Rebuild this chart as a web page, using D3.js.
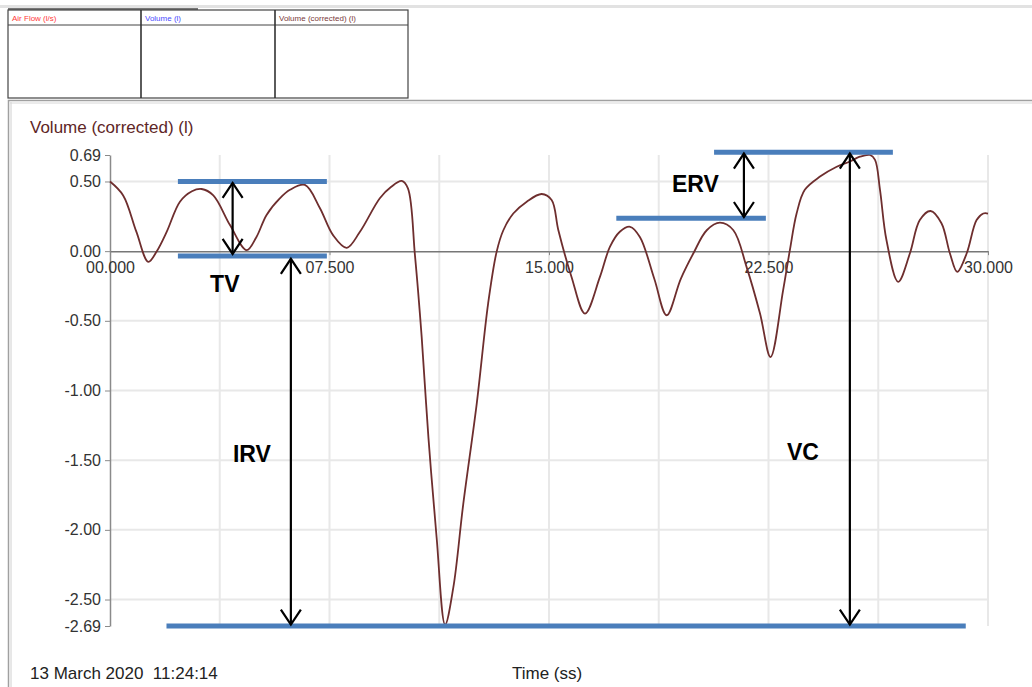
<!DOCTYPE html>
<html><head><meta charset="utf-8">
<script src="https://cdn.jsdelivr.net/npm/d3@7"></script>
<style>
html,body{margin:0;padding:0;background:#fff;}
svg{display:block;font-family:Arial,"Liberation Sans",sans-serif;}
</style></head>
<body>
<svg id="c" width="1032" height="687"></svg>
<script>
// ---- data ----
const timeS = [0,0.45,0.9,1.31,1.6,1.94,2.39,2.8,3.13,3.53,4.1,4.67,5.0,5.35,5.81,6.15,6.66,7.17,7.62,8.09,8.54,9.22,9.6,9.97,10.18,10.42,10.65,10.88,11.16,11.45,11.73,12.07,12.53,12.92,13.21,13.44,13.78,14.24,14.75,15.09,15.32,15.77,16.23,16.74,17.08,17.42,17.77,18.11,18.6,19.02,19.5,19.93,20.39,20.84,21.3,21.75,22.21,22.57,23.0,23.23,23.46,23.74,24.26,24.83,25.28,25.62,25.97,26.14,26.31,26.53,26.93,27.33,27.67,28.04,28.41,28.7,28.95,29.27,29.61,29.84,30.0];
const volumeL = [0.50,0.40,0.14,-0.077,0.0,0.14,0.355,0.43,0.446,0.40,0.187,0.007,0.10,0.26,0.38,0.44,0.475,0.31,0.115,0.024,0.139,0.38,0.46,0.504,0.45,-0.03,-0.617,-1.336,-2.055,-2.68,-2.415,-1.815,-1.096,-0.376,-0.005,0.15,0.27,0.355,0.41,0.367,0.15,-0.185,-0.448,-0.185,0.03,0.139,0.175,0.10,-0.2,-0.46,-0.2,-0.017,0.15,0.204,0.15,-0.113,-0.448,-0.76,-0.28,0.007,0.27,0.44,0.535,0.606,0.643,0.678,0.69,0.655,0.44,0.08,-0.22,-0.017,0.223,0.288,0.2,-0.017,-0.149,-0.017,0.223,0.27,0.27];
const yTicks = [0.69,0.50,0.00,-0.50,-1.00,-1.50,-2.00,-2.50,-2.69];
const yGrid = [0.50,-0.50,-1.00,-1.50,-2.00,-2.50];
const xTicks = [0,7.5,15,22.5,30];
const xTickLabels = ["00.000","07.500","15.000","22.500","30.000"];
const xGrid = [3.75,7.5,11.25,15,18.75,22.5,26.25,30];
const headerLabels = ["Air Flow (l/s)","Volume (l)","Volume (corrected) (l)"];
const headerColors = ["#ff3b3b","#4b4bff","#7a3a3a"];
// annotation bars: [t0, t1, v]
const bars = [[2.32,7.41,0.50],[2.32,7.41,-0.035],[17.3,22.41,0.237],[20.64,26.75,0.71],[1.93,29.24,-2.69]];
// arrows: [t, vTop, vBottom]
const arrows = [[4.19,0.49,-0.02],[6.18,-0.055,-2.68],[21.66,0.70,0.245],[25.28,0.70,-2.68]];
// labels: [text, t, v]
const annLabels = [["TV",3.42,-0.295],["IRV",4.2,-1.51],["ERV",19.2,0.424],["VC",23.13,-1.50]];

const svg = d3.select("#c");
const x = d3.scaleLinear().domain([0,30]).range([110,988]);
const y = d3.scaleLinear().domain([-2.69,0.69]).range([626,155]);
const fmt = d => d3.format(".2f")(d).replace("\u2212","-");

// window top band
svg.append("rect").attr("x",0).attr("y",5).attr("width",1032).attr("height",3).attr("fill","#e2e2e2");
svg.append("rect").attr("x",8).attr("y",8).attr("width",190).attr("height",2).attr("fill","#777");

// header table
const colX = [8,141,275,408];
svg.append("rect").attr("x",8).attr("y",10).attr("width",400).attr("height",88)
  .attr("fill","#fff").attr("stroke","#444").attr("stroke-width",1.2);
svg.append("line").attr("x1",8).attr("x2",408).attr("y1",25).attr("y2",25).attr("stroke","#444");
[141,275].forEach(cx=>svg.append("line").attr("x1",cx).attr("x2",cx).attr("y1",10).attr("y2",98).attr("stroke","#333").attr("stroke-width",1.6));
headerLabels.forEach((h,i)=>svg.append("text").attr("x",colX[i]+4).attr("y",20.5)
  .attr("font-size",8).attr("fill",headerColors[i]).text(h));

// chart panel
svg.append("rect").attr("x",8.5).attr("y",100.5).attr("width",1030).attr("height",600)
  .attr("fill","#fff").attr("stroke","#a0a0a0").attr("stroke-width",1.5);
svg.append("line").attr("x1",11).attr("x2",11).attr("y1",102).attr("y2",687).attr("stroke","#d0d0d0");
svg.append("line").attr("x1",10).attr("x2",1032).attr("y1",103).attr("y2",103).attr("stroke","#d8d8d8");

svg.append("text").attr("x",30).attr("y",133).attr("font-size",17).attr("fill","#5e2626").text("Volume (corrected) (l)");

// grid
const g = svg.append("g");
g.selectAll(".vg").data(xGrid).join("line").attr("x1",d=>x(d)).attr("x2",d=>x(d))
  .attr("y1",y(0.69)).attr("y2",y(-2.69)).attr("stroke","#e8e8e8").attr("stroke-width",2);
g.selectAll(".hg").data(yGrid).join("line").attr("x1",x(0)).attr("x2",x(30))
  .attr("y1",d=>y(d)).attr("y2",d=>y(d)).attr("stroke","#e8e8e8").attr("stroke-width",2);

// y axis
const ya = svg.append("g").attr("transform",`translate(${x(0)},0)`)
  .call(d3.axisLeft(y).tickValues(yTicks).tickFormat(fmt).tickSize(5).tickSizeOuter(0));
ya.select(".domain").attr("stroke","#8a8a8a").attr("stroke-width",1.5);
ya.selectAll(".tick line").attr("stroke","#8a8a8a");
ya.selectAll("text").attr("font-size",16).attr("fill","#333").attr("font-family","Arial,'Liberation Sans',sans-serif").attr("x",-9);

// x axis at zero
const xa = svg.append("g").attr("transform",`translate(0,${y(0)})`)
  .call(d3.axisBottom(x).tickValues(xTicks).tickFormat((d,i)=>xTickLabels[i]).tickSize(4).tickSizeOuter(0));
xa.select(".domain").attr("stroke","#777").attr("stroke-width",1.5);
xa.selectAll(".tick line").attr("stroke","#888");
xa.selectAll("text").attr("font-size",16).attr("fill","#333").attr("font-family","Arial,'Liberation Sans',sans-serif").attr("y",10).attr("dy","0.71em");

// curve
const line = d3.line().x((d,i)=>x(timeS[i])).y(d=>y(d)).curve(d3.curveCatmullRom.alpha(0.5));
svg.append("path").datum(volumeL).attr("d",line).attr("fill","none")
  .attr("stroke","#6e2e2e").attr("stroke-width",1.8);

// annotation bars
svg.selectAll(".bar").data(bars).join("line")
  .attr("x1",d=>x(d[0])).attr("x2",d=>x(d[1])).attr("y1",d=>y(d[2])).attr("y2",d=>y(d[2]))
  .attr("stroke","#4a7ebb").attr("stroke-width",5);

// arrows
const ag = svg.append("g").attr("stroke","#000").attr("stroke-width",2.2).attr("fill","none");
arrows.forEach(a=>{
  const ax = x(a[0]), yt = y(a[1]), yb = y(a[2]);
  ag.append("line").attr("x1",ax).attr("x2",ax).attr("y1",yt).attr("y2",yb);
  ag.append("path").attr("d",`M${ax-10},${yt+15}L${ax},${yt}L${ax+10},${yt+15}`);
  ag.append("path").attr("d",`M${ax-10},${yb-15}L${ax},${yb}L${ax+10},${yb-15}`);
});

// annotation labels
svg.selectAll(".al").data(annLabels).join("text")
  .attr("x",d=>x(d[1])).attr("y",d=>y(d[2])).attr("font-size",23).attr("font-weight","bold")
  .attr("fill","#000").text(d=>d[0]);

// footer
svg.append("text").attr("x",30).attr("y",679).attr("font-size",17).attr("fill","#222")
  .attr("xml:space","preserve").style("white-space","pre").text("13 March 2020  11:24:14");
svg.append("text").attr("x",512).attr("y",679).attr("font-size",17).attr("fill","#222").text("Time (ss)");
</script>
</body></html>
